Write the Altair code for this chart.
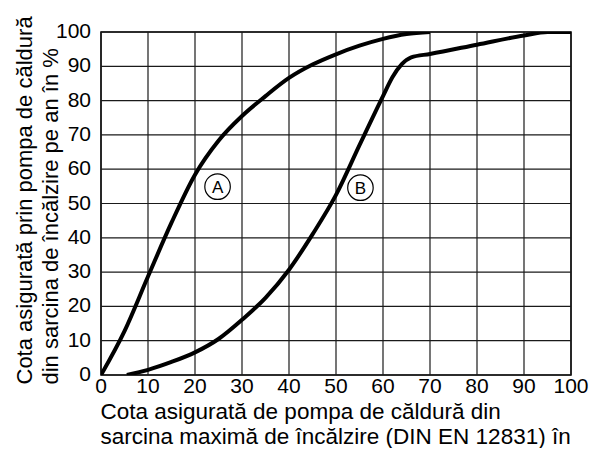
import altair as alt
import pandas as pd

# Curve A
a_x = [0, 5, 10, 15, 20, 25, 30, 35, 40, 45, 50, 55, 60, 65, 70]
a_y = [0, 12.8, 28.7, 44.4, 58.4, 68.3, 75.5, 81.3, 86.6, 90.5, 93.5, 96, 98, 99.4, 100]

# Curve B
b_x = [5.5, 10, 15, 20, 25, 30, 35, 40, 45, 50, 55, 60, 62, 64, 66, 70, 80, 90, 95, 100]
b_y = [0, 1.5, 3.8, 6.6, 10.5, 16.1, 22.5, 30.7, 41, 52.5, 67, 81.3, 86.8, 90.6, 92.6, 93.6, 96.3, 99, 100, 100]

# Curve labels
lab_text = ["A", "B"]
lab_x = [24.8, 55.2]
lab_y = [54.9, 54.6]

ticks = list(range(0, 101, 10))
tick_labels = [str(t) for t in ticks]

x_title = ["Cota asigurată de pompa de căldură din",
           "sarcina maximă de încălzire (DIN EN 12831) în"]
y_title = ["Cota asigurată prin pompa de căldură",
           "din sarcina de încălzire pe an în %"]

FONT = "Liberation Sans"

df = pd.DataFrame({
    "x": a_x + b_x,
    "y": a_y + b_y,
    "curve": ["A"] * len(a_x) + ["B"] * len(b_x),
})
labels = pd.DataFrame({"x": lab_x, "y": lab_y, "t": lab_text})
tdf = pd.DataFrame({"v": ticks, "lab": tick_labels})

xs = alt.Scale(domain=[0, 100], nice=False, zero=False)
ys = alt.Scale(domain=[0, 100], nice=False, zero=False)

x_axis = alt.Axis(
    grid=False, domain=False, ticks=False, labels=False,
    title=x_title, titleFont=FONT, titleFontSize=22.5, titleFontWeight="normal",
    titleColor="black", titleX=-1, titleY=43, titleAlign="left",
    titleBaseline="alphabetic", titleLineHeight=25, titleAnchor="start",
)
y_axis = alt.Axis(
    grid=False, domain=False, ticks=False, labels=False,
    title=y_title, titleFont=FONT, titleFontSize=22, titleFontWeight="normal",
    titleColor="black", titleX=-70, titleY=352, titleAngle=270, titleAlign="left",
    titleBaseline="alphabetic", titleLineHeight=26, titleAnchor="start",
)

GRID = "#1a1a1a"

vgrid = alt.Chart(tdf).mark_rule(color=GRID, strokeWidth=1.2).encode(
    x=alt.X("v:Q", scale=xs, axis=x_axis)
)
hgrid = alt.Chart(tdf).mark_rule(color=GRID, strokeWidth=1.2).encode(
    y=alt.Y("v:Q", scale=ys, axis=y_axis)
)

xlabels = alt.Chart(tdf).mark_text(
    font=FONT, fontSize=21, color="black", baseline="top", align="center", dy=1
).encode(x=alt.X("v:Q", scale=xs, axis=x_axis), y=alt.YDatum(0, scale=ys, axis=y_axis), text="lab:N")

ylabels = alt.Chart(tdf).mark_text(
    font=FONT, fontSize=21, color="black", baseline="middle", align="right", dx=-10
).encode(y=alt.Y("v:Q", scale=ys, axis=y_axis), x=alt.XDatum(0, scale=xs, axis=x_axis), text="lab:N")

lines = alt.Chart(df).mark_line(
    color="black", strokeWidth=4, interpolate="monotone", clip=True
).encode(
    x=alt.X("x:Q", scale=xs, axis=x_axis),
    y=alt.Y("y:Q", scale=ys, axis=y_axis),
    detail="curve:N",
)

circles = alt.Chart(labels).mark_point(
    shape="circle", size=650, filled=False, stroke="black", strokeWidth=1.2,
    fill="white", fillOpacity=1, opacity=1
).encode(x=alt.X("x:Q", scale=xs, axis=x_axis), y=alt.Y("y:Q", scale=ys, axis=y_axis))

texts = alt.Chart(labels).mark_text(
    font=FONT, fontSize=17, color="black", baseline="middle", align="center", dy=1
).encode(x=alt.X("x:Q", scale=xs, axis=x_axis), y=alt.Y("y:Q", scale=ys, axis=y_axis), text="t:N")

chart = alt.layer(vgrid, hgrid, xlabels, ylabels, lines, circles, texts).properties(
    width=470, height=343,
    autosize=alt.AutoSizeParams(type="none"),
    padding={"left": 93, "top": 24, "right": 18, "bottom": 73},
    background="white",
).configure_view(stroke="black", strokeWidth=1.5)

chart.save("out.html", embed_options={"renderer": "svg", "actions": False})
